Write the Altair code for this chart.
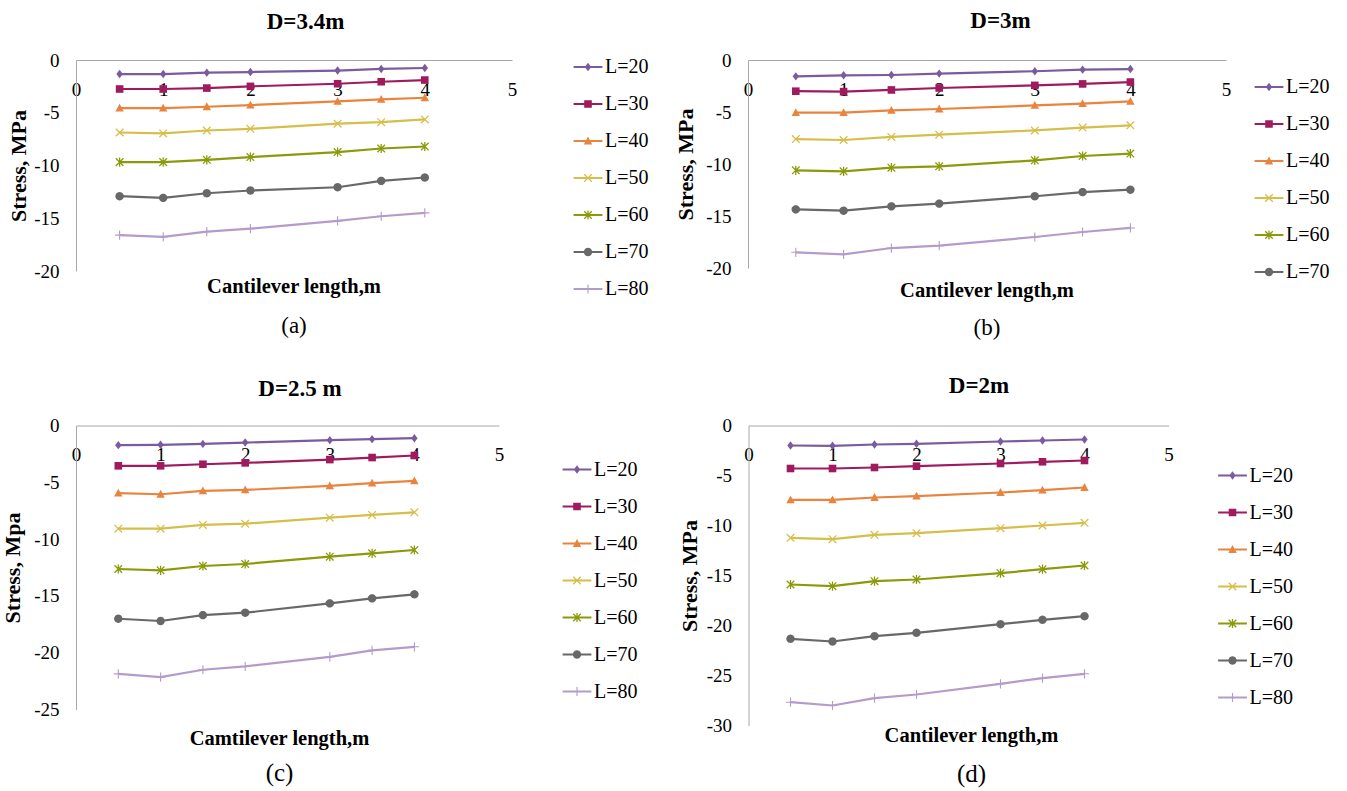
import math
import altair as alt
import pandas as pd

# ---------------- data ----------------
x_vals = [0.5, 1, 1.5, 2, 3, 3.5, 4]
series = ["L=20", "L=30", "L=40", "L=50", "L=60", "L=70", "L=80"]
marks = ["m20", "m30", "m40", "m50", "m60", "m70", "m80"]
colors = ["#7B5A9E", "#A01A5E", "#E8843E", "#D6BE4A", "#8C9A0A", "#686868", "#B49BCA"]

stress_a = [
    [-1.33, -1.33, -1.20, -1.14, -1.00, -0.85, -0.76],
    [-2.75, -2.75, -2.66, -2.50, -2.25, -2.06, -1.90],
    [-4.56, -4.56, -4.43, -4.27, -3.92, -3.73, -3.58],
    [-6.87, -6.96, -6.68, -6.52, -6.04, -5.89, -5.63],
    [-9.68, -9.68, -9.46, -9.20, -8.73, -8.39, -8.20],
    [-12.91, -13.07, -12.63, -12.37, -12.06, -11.46, -11.14],
    [-16.60, -16.77, -16.27, -15.98, -15.25, -14.81, -14.49],
]
stress_b = [
    [-1.57, -1.47, -1.44, -1.31, -1.08, -0.93, -0.87],
    [-3.00, -3.04, -2.88, -2.69, -2.44, -2.30, -2.12],
    [-5.06, -5.06, -4.84, -4.71, -4.37, -4.20, -3.97],
    [-7.60, -7.69, -7.40, -7.18, -6.77, -6.50, -6.28],
    [-10.61, -10.70, -10.35, -10.22, -9.65, -9.23, -9.00],
    [-14.36, -14.49, -14.07, -13.81, -13.10, -12.70, -12.47],
    [-18.49, -18.69, -18.08, -17.85, -17.02, -16.54, -16.15],
]
stress_c = [
    [-1.73, -1.70, -1.62, -1.50, -1.29, -1.20, -1.12],
    [-3.55, -3.55, -3.41, -3.29, -3.00, -2.82, -2.64],
    [-5.96, -6.05, -5.76, -5.67, -5.32, -5.08, -4.88],
    [-9.08, -9.08, -8.75, -8.64, -8.11, -7.87, -7.64],
    [-12.63, -12.75, -12.37, -12.19, -11.55, -11.25, -10.96],
    [-17.01, -17.21, -16.69, -16.48, -15.66, -15.22, -14.86],
    [-21.86, -22.15, -21.50, -21.21, -20.36, -19.80, -19.48],
]
stress_d = [
    [-2.00, -2.03, -1.90, -1.83, -1.60, -1.50, -1.40],
    [-4.30, -4.30, -4.20, -4.07, -3.80, -3.63, -3.50],
    [-7.43, -7.43, -7.20, -7.07, -6.70, -6.47, -6.20],
    [-11.23, -11.37, -10.93, -10.77, -10.27, -10.00, -9.73],
    [-15.90, -16.07, -15.57, -15.40, -14.77, -14.37, -14.00],
    [-21.33, -21.60, -21.07, -20.73, -19.87, -19.43, -19.07],
    [-27.67, -28.00, -27.27, -26.90, -25.83, -25.27, -24.83],
]

SERIF = "Liberation Serif"

# ---------------- marker paths (unit box, 1 unit = 4 px at size 64) ----------------
def poly(pts):
    area = sum(pts[i][0] * pts[(i + 1) % len(pts)][1] - pts[(i + 1) % len(pts)][0] * pts[i][1]
               for i in range(len(pts)))
    if area < 0:
        pts = pts[::-1]
    return "M" + "L".join(f"{x:.3f},{y:.3f}" for x, y in pts) + "Z"


def bar(x1, y1, x2, y2, t):
    dx, dy = x2 - x1, y2 - y1
    ln = math.hypot(dx, dy)
    nx, ny = -dy / ln * t, dx / ln * t
    return poly([(x1 + nx, y1 + ny), (x2 + nx, y2 + ny), (x2 - nx, y2 - ny), (x1 - nx, y1 - ny)])


diamond = poly([(0, -1.05), (0.8, 0), (0, 1.05), (-0.8, 0)])
square = poly([(-0.95, -0.95), (0.95, -0.95), (0.95, 0.95), (-0.95, 0.95)])
triangle = poly([(0, -1.1), (1.05, 0.85), (-1.05, 0.85)])
circle = poly([(1.05 * math.cos(2 * math.pi * k / 24), 1.05 * math.sin(2 * math.pi * k / 24)) for k in range(24)])
xmark = bar(-0.95, -0.95, 0.95, 0.95, 0.16) + bar(-0.95, 0.95, 0.95, -0.95, 0.16)
asterisk = xmark + bar(0, -1.15, 0, 1.15, 0.16)
plus = bar(-1.15, 0, 1.15, 0, 0.14) + bar(0, -1.15, 0, 1.15, 0.14)
plot_shapes = [diamond, square, triangle, xmark, asterisk, circle, plus]
leg_line = bar(-3.6, 0, 3.6, 0, 0.27)
legend_shapes = [leg_line + s for s in plot_shapes]

cscale = alt.Scale(domain=series + marks, range=colors + colors)
sscale = alt.Scale(domain=series + marks, range=legend_shapes + plot_shapes)


def panel(vals, w, h, ymin, title, title_y, title_dx_axis, xlab, ylab, ytx, caption, cap_size,
          cap_pad, t_offset, t_dx, legend_series, lx, ly):
    rows = []
    for s, mk, ys in zip(series, marks, vals):
        for x, y in zip(x_vals, ys):
            rows.append({"x": x, "y": y, "series": s, "mk": mk})
    df = pd.DataFrame(rows)
    xaxis = alt.Axis(orient="top", values=[0, 1, 2, 3, 4, 5], format="d", grid=False, ticks=False,
                     tickSize=0, labelPadding=-20, labelBaseline="top", labelFlush=False,
                     labelFont=SERIF, labelFontSize=19, labelColor="black",
                     domainColor="#a8a8a8", domainWidth=1,
                     title=title, titleFont=SERIF, titleFontSize=23, titleFontWeight="bold",
                     titleColor="black", titleBaseline="alphabetic", titleY=title_y,
                     titleX=w / 2 + title_dx_axis)
    yaxis = alt.Axis(values=list(range(ymin, 1, 5)), grid=False, ticks=False, tickSize=0,
                     labelPadding=17, labelFlush=False, labelExpr="'' + datum.value",
                     labelFont=SERIF, labelFontSize=19, labelColor="black",
                     domainColor="#a8a8a8", domainWidth=1,
                     title=ylab, titleFont=SERIF, titleFontSize=22, titleFontWeight="bold",
                     titleColor="black", titleBaseline="alphabetic", titleX=ytx)
    xenc = alt.X("x:Q", scale=alt.Scale(domain=[0, 5], nice=False, zero=False), axis=xaxis)
    yenc = alt.Y("y:Q", scale=alt.Scale(domain=[ymin, 0], nice=False, zero=False), axis=yaxis)
    lg = alt.Legend(orient="none", legendX=lx, legendY=ly, values=legend_series, title=None,
                    labelFont=SERIF, labelFontSize=20, labelColor="black", symbolSize=64,
                    labelOffset=7, rowPadding=17, padding=0, symbolStrokeWidth=0)
    base = alt.Chart(df)
    # legend-only layer first, so that its legend definition wins the merge
    leg = base.transform_filter("false").mark_point(filled=True, opacity=1, size=64).encode(
        x=xenc, y=yenc,
        color=alt.Color("series:N", scale=cscale, legend=lg),
        shape=alt.Shape("series:N", scale=sscale, legend=lg))
    lines = base.mark_line(strokeWidth=2.2).encode(
        x=xenc, y=yenc, color=alt.Color("series:N", scale=cscale, legend=None))
    pts = base.mark_point(filled=True, opacity=1, size=64).encode(
        x=xenc, y=yenc,
        color=alt.Color("mk:N", scale=cscale, legend=None),
        shape=alt.Shape("mk:N", scale=sscale, legend=None))
    return alt.layer(leg, lines, pts).properties(
        width=w, height=h,
        title=alt.TitleParams(text=xlab, subtitle=caption, orient="bottom", anchor="middle",
                              frame="group", offset=t_offset, dx=t_dx, font=SERIF, fontSize=20.5,
                              fontWeight="bold", color="black", subtitleFont=SERIF,
                              subtitleFontSize=cap_size, subtitleFontWeight="normal",
                              subtitleColor="black", subtitlePadding=cap_pad))


pa = panel(stress_a, 436, 211, -20, "D=3.4m", -32, 11, "Cantilever length,m", "Stress, MPa", -51,
           "(a)", 23, 17.5, -22, 0, series, 502, -3)
pb = panel(stress_b, 478, 208, -20, "D=3m", -33, 13, "Cantilever length,m", "Stress, MPa", -56,
           "(b)", 23, 15.5, -1, 0, series[:6], 511, 17)
pc = panel(stress_c, 423, 284, -25, "D=2.5 m", -30, 12, "Camtilever length,m", "Stress, Mpa", -56.5,
           "(c)", 25, 12.25, 9, -8, series, 491, 34)
pd_ = panel(stress_d, 420, 300, -30, "D=2m", -33, 20, "Cantilever length,m", "Stress, MPa", -52,
            "(d)", 25, 16.25, -10, 13, series, 474, 40)

indep = dict(color="independent", shape="independent", x="independent", y="independent")
row1 = alt.hconcat(pa, pb, spacing=25).resolve_scale(**indep).resolve_legend(
    color="independent", shape="independent")
row2 = alt.hconcat(pc, pd_, spacing=40.5).resolve_scale(**indep).resolve_legend(
    color="independent", shape="independent")
chart = alt.vconcat(row1, row2, spacing=34.5).resolve_scale(**indep).resolve_legend(
    color="independent", shape="independent").properties(
    padding={"left": 1, "top": 9, "right": 0, "bottom": 0},
    background="white",
).configure_view(stroke=None).configure_legend(
    labelFont=SERIF, labelFontSize=20, labelColor="black")

chart.save("out.html", embed_options={"renderer": "svg", "actions": False})
